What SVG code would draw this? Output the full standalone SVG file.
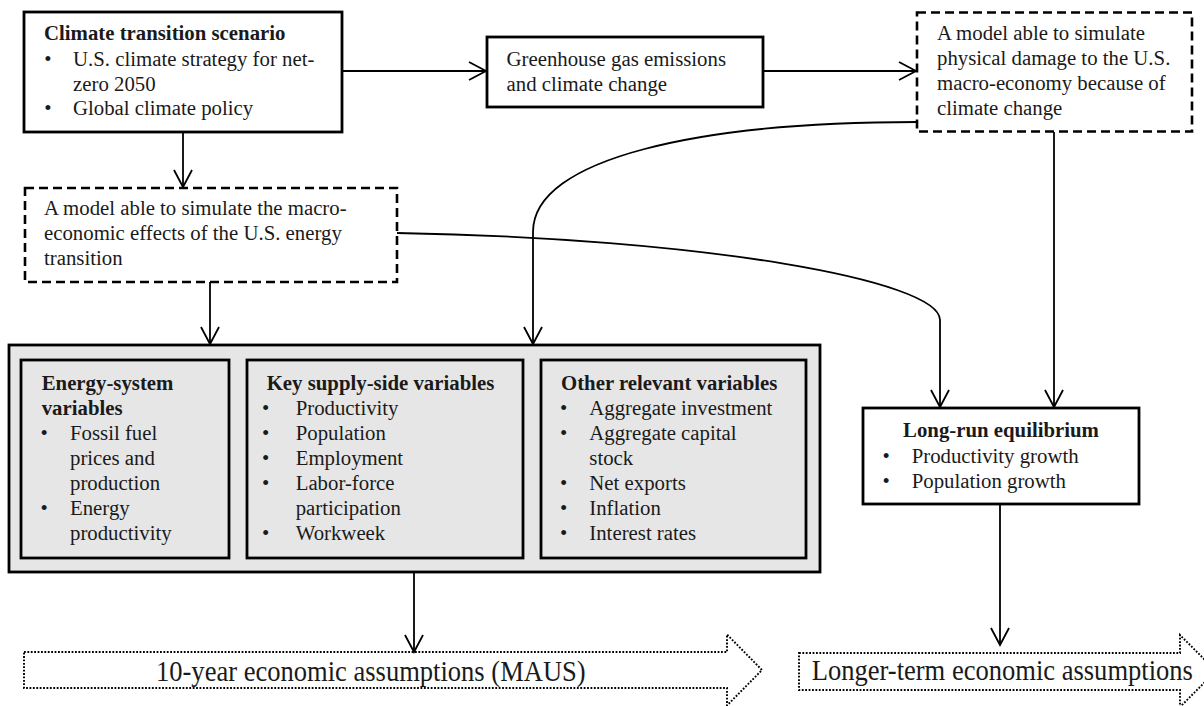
<svg xmlns="http://www.w3.org/2000/svg" width="1204" height="706" viewBox="0 0 1204 706">
<style>
text{font-family:"Liberation Serif","Times New Roman",serif;font-size:20.8px;fill:#1a1a1a}
.b{font-weight:bold}
.box{fill:#fff;stroke:#000;stroke-width:2.8}
.dash{fill:#fff;stroke:#000;stroke-width:2.6;stroke-dasharray:9 5}
.gray{fill:#e6e6e6;stroke:#000;stroke-width:2.8}
.dot{fill:#fff;stroke:#000;stroke-width:1.9;stroke-dasharray:1.8 1.6}
.big{font-size:30px}
.con{fill:none;stroke:#000;stroke-width:1.8;marker-end:url(#ah)}
</style>
<defs>
<marker id="ah" markerUnits="userSpaceOnUse" viewBox="-20 -12 24 24" refX="0" refY="0" markerWidth="24" markerHeight="24" orient="auto">
<path d="M-17,-9 L0,0 L-17,9" fill="none" stroke="#000" stroke-width="1.8"/>
</marker>
</defs>

<g id="climate-scenario">
<rect class="box" x="24" y="12" width="318" height="120"/>
<text class="b" x="44" y="40">Climate transition scenario</text>
<text x="44.3" y="65.5">•</text><text x="73" y="65.5">U.S. climate strategy for net-</text>
<text x="73" y="90.5">zero 2050</text>
<text x="44.3" y="115">•</text><text x="73" y="115">Global climate policy</text>
</g>

<g id="ghg">
<rect class="box" x="487" y="37" width="276" height="70"/>
<text x="506.5" y="65.5">Greenhouse gas emissions</text>
<text x="506.5" y="90.5">and climate change</text>
</g>

<g id="physical-model">
<rect class="dash" x="917" y="12.5" width="275" height="119"/>
<text x="937" y="40">A model able to simulate</text>
<text x="937" y="65">physical damage to the U.S.</text>
<text x="937" y="90">macro-economy because of</text>
<text x="937" y="114.5">climate change</text>
</g>

<g id="transition-model">
<rect class="dash" x="25" y="188" width="372" height="94"/>
<text x="44" y="215">A model able to simulate the macro-</text>
<text x="44" y="240">economic effects of the U.S. energy</text>
<text x="44" y="265">transition</text>
</g>

<g id="variables">
<rect class="gray" x="9" y="345" width="811" height="227"/>
<g id="energy-system">
<rect class="gray" x="21" y="360" width="208" height="198"/>
<text class="b" x="41.7" y="390">Energy-system</text>
<text class="b" x="41.7" y="415">variables</text>
<text x="40.6" y="440">•</text><text x="70" y="440">Fossil fuel</text>
<text x="70" y="465">prices and</text>
<text x="70" y="489.5">production</text>
<text x="40.6" y="514.5">•</text><text x="70" y="514.5">Energy</text>
<text x="70" y="539.5">productivity</text>
</g>
<g id="supply-side">
<rect class="gray" x="247" y="360" width="276" height="198"/>
<text class="b" x="266.7" y="390">Key supply-side variables</text>
<text x="262" y="415">•</text><text x="295.7" y="415">Productivity</text>
<text x="262" y="440">•</text><text x="295.7" y="440">Population</text>
<text x="262" y="465">•</text><text x="295.7" y="465">Employment</text>
<text x="262" y="489.5">•</text><text x="295.7" y="489.5">Labor-force</text>
<text x="295.7" y="514.5">participation</text>
<text x="262" y="539.5">•</text><text x="295.7" y="539.5">Workweek</text>
</g>
<g id="other">
<rect class="gray" x="541" y="360" width="265" height="198"/>
<text class="b" x="561" y="390">Other relevant variables</text>
<text x="560" y="415">•</text><text x="589.3" y="415">Aggregate investment</text>
<text x="560" y="440">•</text><text x="589.3" y="440">Aggregate capital</text>
<text x="589.3" y="465">stock</text>
<text x="560" y="489.5">•</text><text x="589.3" y="489.5">Net exports</text>
<text x="560" y="514.5">•</text><text x="589.3" y="514.5">Inflation</text>
<text x="560" y="539.5">•</text><text x="589.3" y="539.5">Interest rates</text>
</g>
</g>

<g id="long-run">
<rect class="box" x="863" y="408" width="276" height="96"/>
<text class="b" x="1001" y="437" text-anchor="middle">Long-run equilibrium</text>
<text x="882.6" y="462.5">•</text><text x="911.7" y="462.5">Productivity growth</text>
<text x="882.6" y="487.5">•</text><text x="911.7" y="487.5">Population growth</text>
</g>

<g id="maus">
<path class="dot" d="M24,652 L727,652 L727,634.5 L762,670 L727,705.5 L727,688 L24,688 Z"/>
<text class="big" transform="translate(156,681) scale(0.885,1)">10-year economic assumptions (MAUS)</text>
</g>

<g id="longer-term">
<path class="dot" d="M799,653 L1180,653 L1180,635 L1216,671 L1180,707 L1180,690 L799,690 Z"/>
<text class="big" transform="translate(811.7,680) scale(0.885,1)">Longer-term economic assumptions</text>
</g>

<g id="connectors">
<path class="con" d="M342,71 L486,71"/>
<path class="con" d="M763,71 L916,71"/>
<path class="con" d="M183,132 L183,187"/>
<path class="con" d="M210,282 L210,344"/>
<path class="con" d="M917,122 C700,122 533,158 533,232 L533,344"/>
<path class="con" d="M397,233 C700,238 940,280 940,320 L940,407"/>
<path class="con" d="M1054,132 L1054,407"/>
<path class="con" d="M414,572 L414,652"/>
<path class="con" d="M1000,504 L1000,645"/>
</g>
</svg>
